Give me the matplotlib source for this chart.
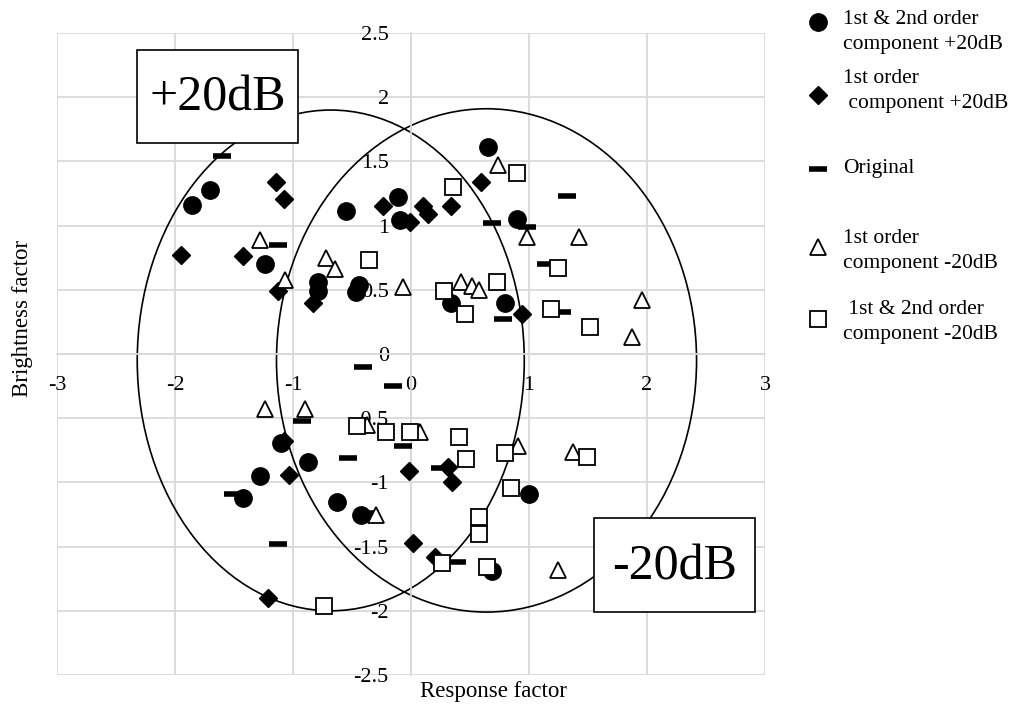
import numpy as np
import matplotlib
matplotlib.use("Agg")
import matplotlib.pyplot as plt
from matplotlib.patches import Ellipse, Rectangle

plt.rcParams.update({
    'font.family': ['Liberation Serif', 'DejaVu Serif'],
    'axes.unicode_minus': False,
})

# 1st & 2nd order component +20dB (filled circles)
both_p20_x = [-1.86, -1.70, -1.24, -0.55, -0.79, -0.79, -0.44, -0.47, -0.11, -0.09, 0.65, 0.90,
              0.34, 0.80, -1.10, -0.87, -1.28, -1.42, -0.63, -0.42, 1.00, 0.69]
both_p20_y = [1.16, 1.28, 0.70, 1.11, 0.56, 0.49, 0.54, 0.48, 1.22, 1.04, 1.61, 1.05,
              0.40, 0.40, -0.69, -0.84, -0.95, -1.12, -1.15, -1.25, -1.09, -1.69]

# 1st order component +20dB (filled diamonds)
first_p20_x = [-1.14, -1.08, -1.95, -1.42, -1.13, -0.83, -0.24, -0.01, 0.10, 0.14, 0.34, 0.59,
               0.94, -1.08, -1.03, -1.21, -0.02, 0.31, 0.35, 0.20, 0.02]
first_p20_y = [1.34, 1.21, 0.77, 0.76, 0.49, 0.40, 1.15, 1.03, 1.15, 1.09, 1.15, 1.34,
               0.31, -0.68, -0.94, -1.90, -0.91, -0.88, -1.00, -1.58, -1.47]

# Original (dashes)
orig_x = [-1.60, -1.13, 0.69, 0.98, 1.32, 1.14, 0.78, 1.28, -0.41, -0.15, -0.92, -0.53,
          -0.07, -1.51, -1.13, -0.35, 0.25, 0.39]
orig_y = [1.54, 0.85, 1.02, 0.99, 1.23, 0.70, 0.27, 0.33, -0.10, -0.25, -0.52, -0.81,
          -0.72, -1.09, -1.48, -1.24, -0.89, -1.62]

# 1st order component -20dB (open triangles)
first_m20_x = [-1.28, -1.07, -0.72, -0.64, -0.07, 0.74, 0.98, 0.42, 0.52, 0.58, 1.42, 1.96,
               1.87, -1.24, -0.90, -0.37, 0.08, -0.30, 0.91, 1.25, 1.37]
first_m20_y = [0.89, 0.58, 0.75, 0.66, 0.52, 1.47, 0.91, 0.56, 0.53, 0.50, 0.91, 0.42,
               0.13, -0.43, -0.43, -0.55, -0.61, -1.25, -0.72, -1.68, -0.76]

# 1st & 2nd order component -20dB (open squares)
both_m20_x = [-0.36, 0.36, 0.90, 0.28, 0.46, 0.73, 1.25, 1.19, 1.52, -0.46, -0.21, -0.01,
              0.41, 0.47, 0.80, 0.85, 0.58, 0.58, 0.26, 0.64, 1.49, -0.74]
both_m20_y = [0.73, 1.30, 1.41, 0.49, 0.31, 0.56, 0.67, 0.35, 0.21, -0.56, -0.61, -0.61,
              -0.65, -0.82, -0.77, -1.04, -1.27, -1.40, -1.63, -1.66, -0.80, -1.96]

# ellipses: (center x, center y, width, height)
ell_p20 = (-0.68, -0.05, 3.28, 3.90)
ell_m20 = (0.64, -0.05, 3.56, 3.92)

xticks = [-3, -2, -1, 0, 1, 2, 3]
yticks = [-2.5, -2, -1.5, -1, -0.5, 0, 0.5, 1, 1.5, 2, 2.5]

fig = plt.figure(figsize=(10.11, 7.06), dpi=100)
ax = fig.add_axes([57/1011, 31/706, 708/1011, 642/706])

grid_c = '#d9d9d9'
ax.set_xlim(-3, 3)
ax.set_ylim(-2.5, 2.5)
ax.set_xticks(xticks)
ax.set_yticks(yticks)
ax.set_xticklabels(['%g' % v for v in xticks])
ax.set_yticklabels(['%g' % v for v in yticks])
ax.grid(True, color=grid_c, lw=1.3)
for gl in ax.get_xgridlines() + ax.get_ygridlines():
    gl.set_clip_on(False)
for s in ['top', 'right']:
    ax.spines[s].set_visible(False)
ax.spines['left'].set_position(('data', 0))
ax.spines['bottom'].set_position(('data', 0))
for s in ['left', 'bottom']:
    ax.spines[s].set_color(grid_c)
    ax.spines[s].set_linewidth(1.3)
ax.tick_params(axis='both', length=0, labelsize=16)
ax.tick_params(axis='x', pad=15.5)
ax.tick_params(axis='y', pad=16)

for cx, cy, w, h in [ell_p20, ell_m20]:
    ax.add_patch(Ellipse((cx, cy), w, h, fill=False, ec='black', lw=1.2, zorder=2))

ax.plot(both_p20_x, both_p20_y, 'o', ms=12.5, color='black', ls='none', zorder=3)
ax.plot(first_p20_x, first_p20_y, 'D', ms=9.5, color='black', ls='none', zorder=3)
ax.plot(orig_x, orig_y, '_', ms=13, mew=4, color='black', ls='none', zorder=3)
ax.plot(first_m20_x, first_m20_y, '^', ms=12, mfc='white', mec='black', mew=1.3, ls='none', zorder=3)
ax.plot(both_m20_x, both_m20_y, 's', ms=11.5, mfc='white', mec='black', mew=1.3, ls='none', zorder=3)

ax.set_xlabel('Response factor', fontsize=16.5)
ax.set_ylabel('Brightness factor', fontsize=16.5)
ax.xaxis.set_label_coords(0.616, -0.01)
ax.yaxis.set_label_coords(-0.034, 0.556)

# overlay in pixel coordinates for boxes and legend
lax = fig.add_axes([0, 0, 1, 1])
lax.set_xlim(0, 1011)
lax.set_ylim(706, 0)
lax.axis('off')
lax.patch.set_alpha(0)

for (x0, y0, x1, y1, txt) in [(137, 50, 298, 143, '+20dB'), (594, 518, 755, 612, '-20dB')]:
    lax.add_patch(Rectangle((x0, y0), x1 - x0, y1 - y0, fc='white', ec='black', lw=1.2))
    lax.text((x0 + x1) / 2, (y0 + y1) / 2 + 2, txt, fontsize=36, ha='center', va='center')

mx = 818
tx = 843
ls = 1.38
lax.plot(mx, 22, 'o', ms=12.5, color='black')
lax.text(tx, 32, '1st & 2nd order\ncomponent +20dB', fontsize=15.5, va='center', linespacing=ls)
lax.plot(mx, 95, 'D', ms=9.5, color='black')
lax.text(tx, 91, '1st order\n component +20dB', fontsize=15.5, va='center', linespacing=ls)
lax.plot(mx, 169, '_', ms=13, mew=4, color='black')
lax.text(tx, 169, 'Original', fontsize=15.5, va='center')
lax.plot(mx, 247, '^', ms=12, mfc='white', mec='black', mew=1.3)
lax.text(tx, 251, '1st order\ncomponent -20dB', fontsize=15.5, va='center', linespacing=ls)
lax.plot(mx, 319, 's', ms=11.5, mfc='white', mec='black', mew=1.3)
lax.text(tx, 322, ' 1st & 2nd order\ncomponent -20dB', fontsize=15.5, va='center', linespacing=ls)

fig.savefig('out.png', dpi=100)
